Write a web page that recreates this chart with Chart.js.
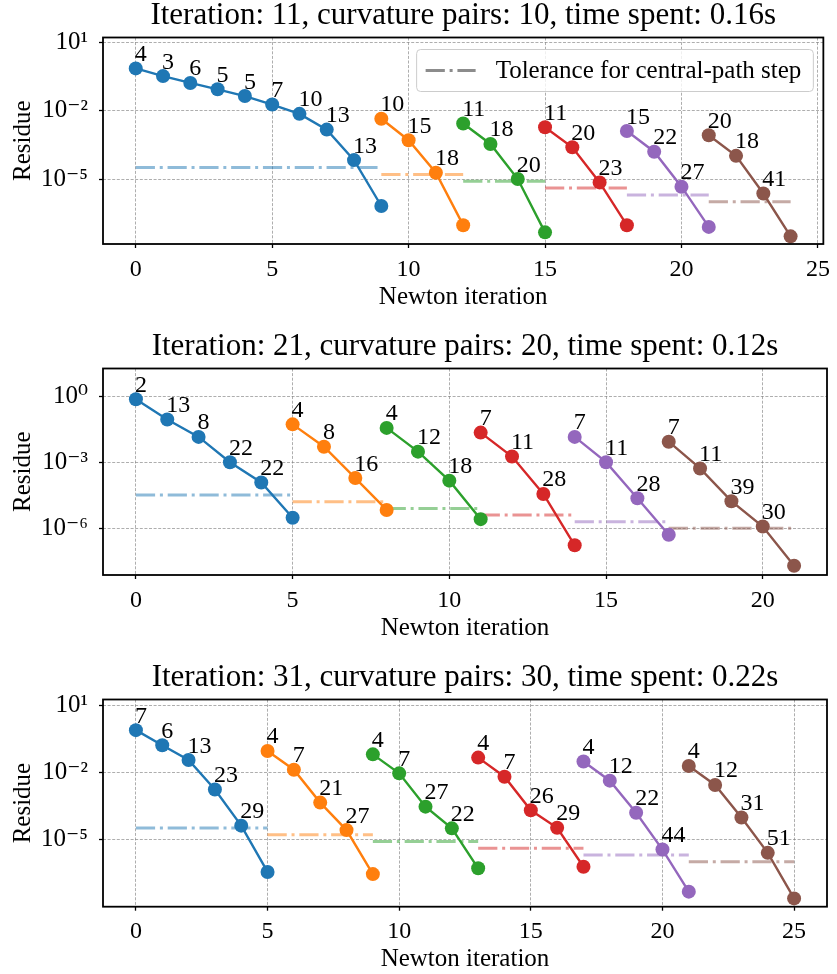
<!DOCTYPE html>
<html><head><meta charset="utf-8">
<script src="https://cdn.jsdelivr.net/npm/chart.js@4"></script>
<style>
html,body{margin:0;padding:0;background:#fff;overflow:hidden;width:837px;height:974px;}
canvas{position:absolute;left:0;}
</style></head>
<body>
<canvas id="c1" width="837" height="315" style="top:0px"></canvas>
<canvas id="c2" width="837" height="315" style="top:331px"></canvas>
<canvas id="c3" width="837" height="312" style="top:662px"></canvas>
<script>
// ---------------- data ----------------
const seriesColors = ['#1f77b4','#ff7f0e','#2ca02c','#d62728','#9467bd','#8c564b'];
const tolerance = [3.2e-5, 1.6e-5, 8.0e-6, 4.0e-6, 2.0e-6, 1.0e-6];
const legendLabel = 'Tolerance for central-path step';
const xLabel = 'Newton iteration';
const yLabel = 'Residue';

// panel 1
const p1Title = 'Iteration: 11, curvature pairs: 10, time spent: 0.16s';
const p1Start = [0, 9, 12, 15, 18, 21];
const p1Residue = [
  [0.74, 0.34, 0.17, 0.089, 0.045, 0.019, 0.0074, 0.0015, 6.8e-5, 6.5e-7],
  [4.5e-3, 5.1e-4, 1.9e-5, 9.3e-8],
  [2.8e-3, 3.5e-4, 1.0e-5, 4.5e-8],
  [1.9e-3, 2.5e-4, 7.1e-6, 9.3e-8],
  [1.3e-3, 1.6e-4, 4.6e-6, 7.8e-8],
  [8.5e-4, 1.05e-4, 2.3e-6, 3.0e-8]
];
const p1Inner = [[4,3,6,5,5,7,10,13,13],[10,15,18],[11,18,20],[11,20,23],[15,22,27],[20,18,41]];
const p1XTicks = [0, 5, 10, 15, 20, 25];
const p1YTicks = [1e1, 1e-2, 1e-5];
const p1YTickLabels = ['10¹', '10⁻²', '10⁻⁵'];

// panel 2
const p2Title = 'Iteration: 21, curvature pairs: 20, time spent: 0.12s';
const p2Start = [0, 5, 8, 11, 14, 17];
const p2Residue = [
  [0.72, 0.087, 0.014, 1.0e-3, 1.2e-4, 3.0e-6],
  [0.052, 5.0e-3, 1.9e-4, 6.8e-6],
  [0.036, 3.0e-3, 1.45e-4, 2.6e-6],
  [0.022, 1.8e-3, 3.6e-5, 1.7e-7],
  [0.014, 1.0e-3, 2.3e-5, 5.1e-7],
  [8.5e-3, 5.2e-4, 1.7e-5, 1.2e-6, 2.0e-8]
];
const p2Inner = [[2,13,8,22,22],[4,8,16],[4,12,18],[7,11,28],[7,11,28],[7,11,39,30]];
const p2XTicks = [0, 5, 10, 15, 20];
const p2YTicks = [1e0, 1e-3, 1e-6];
const p2YTickLabels = ['10⁰', '10⁻³', '10⁻⁶'];

// panel 3
const p3Title = 'Iteration: 31, curvature pairs: 30, time spent: 0.22s';
const p3Start = [0, 5, 9, 13, 17, 21];
const p3Residue = [
  [0.76, 0.16, 0.035, 1.7e-3, 4.1e-5, 3.5e-7],
  [0.089, 0.013, 4.4e-4, 2.6e-5, 2.8e-7],
  [0.063, 8.9e-3, 2.9e-4, 3.1e-5, 5.1e-7],
  [0.045, 6.3e-3, 2.0e-4, 3.3e-5, 6.0e-7],
  [0.030, 4.2e-3, 1.55e-4, 3.5e-6, 4.6e-8],
  [0.019, 2.7e-3, 9.5e-5, 2.5e-6, 2.3e-8]
];
const p3Inner = [[7,6,13,23,29],[4,7,21,27],[4,7,27,22],[4,7,26,29],[4,12,22,44],[4,12,31,51]];
const p3XTicks = [0, 5, 10, 15, 20, 25];
const p3YTicks = [1e1, 1e-2, 1e-5];
const p3YTickLabels = ['10¹', '10⁻²', '10⁻⁵'];

// ---------------- layout / style ----------------
const FONT = "'Liberation Serif', 'DejaVu Serif', serif";

function rgba(hex, a) {
  const n = parseInt(hex.slice(1), 16);
  return `rgba(${(n>>16)&255},${(n>>8)&255},${n&255},${a})`;
}

function makeChart(id, cfg) {
  const datasets = [];
  cfg.residue.forEach((arr, s) => {
    datasets.push({
      data: arr.map((v, j) => ({x: cfg.start[s] + j, y: v})),
      borderColor: seriesColors[s], backgroundColor: seriesColors[s],
      pointBackgroundColor: seriesColors[s], pointBorderWidth: 0,
      pointRadius: 7, borderWidth: 2.4, tension: 0
    });
  });
  cfg.residue.forEach((arr, s) => {
    const x0 = cfg.start[s], x1 = cfg.start[s] + arr.length - 1;
    datasets.push({
      data: [{x: x0, y: tolerance[s]}, {x: x1, y: tolerance[s]}],
      borderColor: rgba(seriesColors[s], 0.5), borderWidth: 3,
      borderDash: [19.2, 4.8, 3, 4.8], borderCapStyle: 'butt',
      pointRadius: 0, tension: 0
    });
  });

  const annotate = {
    id: 'annot',
    afterDatasetsDraw(chart) {
      const ctx = chart.ctx;
      ctx.save();
      ctx.font = '24px ' + FONT;
      ctx.fillStyle = '#000';
      ctx.textAlign = 'left';
      ctx.textBaseline = 'alphabetic';
      cfg.inner.forEach((arr, s) => {
        const meta = chart.getDatasetMeta(s);
        arr.forEach((t, j) => {
          const el = meta.data[j];
          ctx.fillText(String(t), el.x - 1, el.y - 7.5);
        });
      });
      ctx.restore();
    },
    afterDraw(chart) {
      const a = chart.chartArea, ctx = chart.ctx;
      ctx.save();
      ctx.strokeStyle = '#000';
      ctx.lineWidth = 1.8;
      ctx.strokeRect(a.left, a.top, a.right - a.left, a.bottom - a.top);
      if (cfg.legend) {
        ctx.font = '25px ' + FONT;
        const tw = ctx.measureText(legendLabel).width;
        const w = 9 + 50 + 20 + tw + 12, h = 42;
        const bx = a.right - 10 - w, by = a.top + 12;
        ctx.beginPath();
        ctx.roundRect(bx, by, w, h, 4);
        ctx.fillStyle = 'rgba(255,255,255,0.8)';
        ctx.fill();
        ctx.strokeStyle = '#cccccc';
        ctx.lineWidth = 1;
        ctx.stroke();
        ctx.beginPath();
        ctx.setLineDash([19.2, 4.8, 3, 4.8]);
        ctx.lineCap = 'butt';
        ctx.strokeStyle = '#8c8c8c';
        ctx.lineWidth = 3;
        ctx.moveTo(bx + 9, by + h / 2);
        ctx.lineTo(bx + 59, by + h / 2);
        ctx.stroke();
        ctx.setLineDash([]);
        ctx.fillStyle = '#000';
        ctx.textAlign = 'left';
        ctx.textBaseline = 'middle';
        ctx.fillText(legendLabel, bx + 79, by + h / 2 + 1);
      }
      ctx.restore();
    }
  };

  return new Chart(document.getElementById(id), {
    type: 'line',
    data: {datasets},
    plugins: [annotate],
    options: {
      responsive: false, animation: false, events: [],
      layout: {padding: {left: 0, right: 10, top: 0, bottom: 0}},
      plugins: {
        legend: {display: false}, tooltip: {enabled: false},
        title: {display: true, text: cfg.title, color: '#000', fullSize: false,
          font: {family: FONT, size: 31, weight: 'normal', lineHeight: 1},
          padding: {top: 0, bottom: 6.5}}
      },
      scales: {
        x: {
          type: 'linear', min: cfg.xMin, max: cfg.xMax,
          afterBuildTicks: s => { s.ticks = cfg.xTicks.map(v => ({value: v})); },
          afterFit: s => { s.height = cfg.axisH; },
          grid: {color: 'rgba(128,128,128,0.8)', lineWidth: 0.8, drawTicks: true, tickLength: 4,
                 tickColor: '#000', tickWidth: 1.3},
          border: {display: false, dash: [3, 1.6]},
          ticks: {color: '#000', font: {family: FONT, size: 24}, padding: 7, maxRotation: 0, autoSkip: false},
          title: {display: true, text: xLabel, color: '#000',
                  font: {family: FONT, size: 25, lineHeight: 1},
                  padding: {top: 0, bottom: cfg.axisH - 53 - 12.5}}
        },
        y: {
          type: 'logarithmic', min: cfg.yMin, max: cfg.yMax,
          afterBuildTicks: s => { s.ticks = cfg.yTicks.map(v => ({value: v})); },
          afterFit: s => { s.width = 103; },
          grid: {color: 'rgba(128,128,128,0.8)', lineWidth: 0.8, drawTicks: true, tickLength: 4,
                 tickColor: '#000', tickWidth: 1.3},
          border: {display: false, dash: [3, 1.6]},
          ticks: {color: '#000', font: {family: FONT, size: 25}, padding: 11, autoSkip: false,
                  callback: (v, i) => cfg.yLabels[i]},
          title: {display: true, text: yLabel, color: '#000',
                  font: {family: FONT, size: 25, lineHeight: 1},
                  padding: {top: 10.5, bottom: 0}}
        }
      }
    }
  });
}

makeChart('c1', {title: p1Title, start: p1Start, residue: p1Residue, inner: p1Inner,
  xTicks: p1XTicks, yTicks: p1YTicks, yLabels: p1YTickLabels,
  xMin: -1.2, xMax: 25.2, yMin: 1.38e-8, yMax: 17, axisH: 71, legend: true});
makeChart('c2', {title: p2Title, start: p2Start, residue: p2Residue, inner: p2Inner,
  xTicks: p2XTicks, yTicks: p2YTicks, yLabels: p2YTickLabels,
  xMin: -1.05, xMax: 22.05, yMin: 7.6e-9, yMax: 17.8, axisH: 71, legend: false});
makeChart('c3', {title: p3Title, start: p3Start, residue: p3Residue, inner: p3Inner,
  xTicks: p3XTicks, yTicks: p3YTicks, yLabels: p3YTickLabels,
  xMin: -1.25, xMax: 26.25, yMin: 9.8e-9, yMax: 17.8, axisH: 67.3, legend: false});
</script>
</body></html>
